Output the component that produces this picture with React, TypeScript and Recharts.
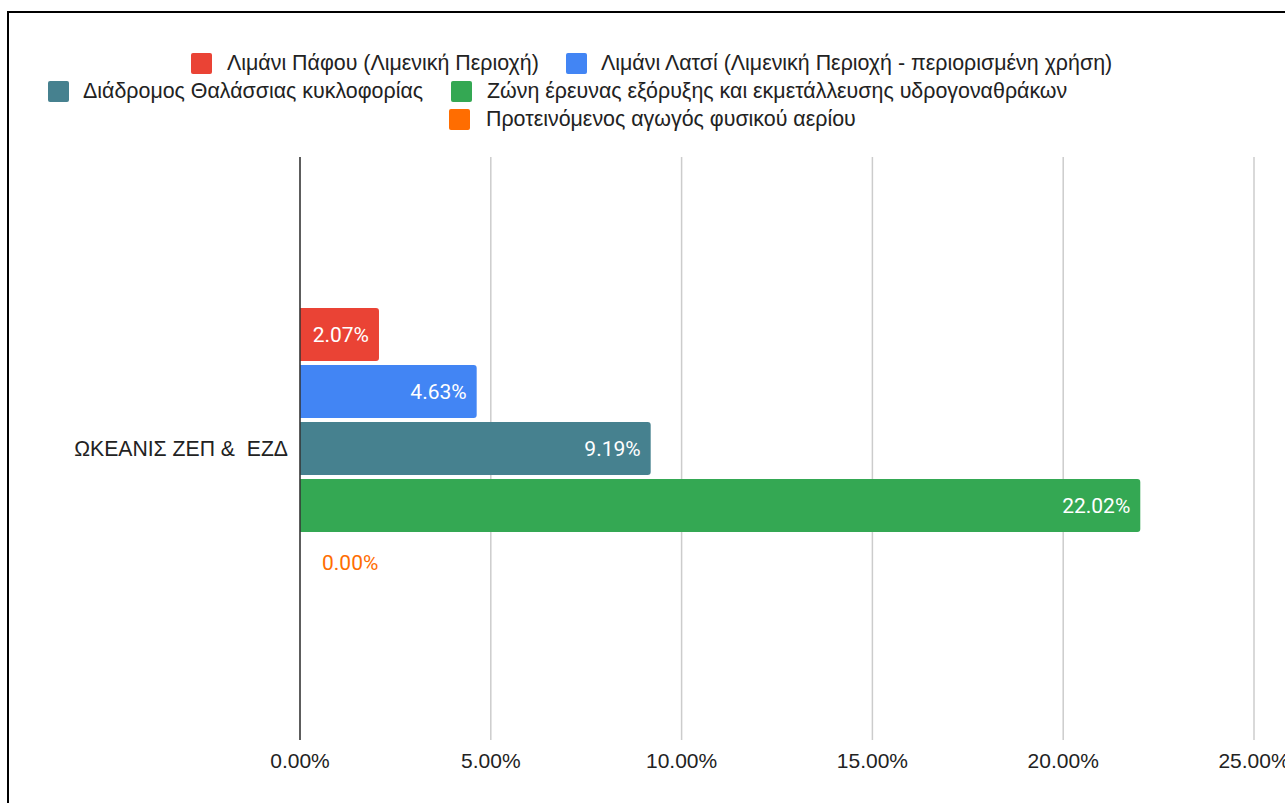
import React from 'react';
import { BarChart, Bar, XAxis, YAxis, CartesianGrid, Legend, LabelList } from 'recharts';

// ---- data ----
const categories: string[] = ['ΩΚΕΑΝΙΣ ΖΕΠ &  ΕΖΔ'];
const seriesNames: string[] = [
  'Λιμάνι Πάφου (Λιμενική Περιοχή)',
  'Λιμάνι Λατσί (Λιμενική Περιοχή - περιορισμένη χρήση)',
  'Διάδρομος Θαλάσσιας κυκλοφορίας',
  'Ζώνη έρευνας εξόρυξης και εκμετάλλευσης υδρογοναθράκων',
  'Προτεινόμενος αγωγός φυσικού αερίου',
];
const pafosValues: number[] = [2.07];
const latsiValues: number[] = [4.63];
const corridorValues: number[] = [9.19];
const hydrocarbonValues: number[] = [22.02];
const pipelineValues: number[] = [0.0];
const xTicks: number[] = [0, 5, 10, 15, 20, 25];

// ---- styles ----
const seriesColors = ['#EA4335', '#4285F4', '#46818F', '#34A853', '#FF6D01'];
const legendLayout = [
  { sx: 191, tx: 227, y: 53 },
  { sx: 566, tx: 601, y: 53 },
  { sx: 48, tx: 83, y: 81 },
  { sx: 451, tx: 487, y: 81 },
  { sx: 449, tx: 486, y: 109 },
];
const axisFont = '"Liberation Sans", Arial, sans-serif';
const labelFont = 'Roboto, "Liberation Sans", Arial, sans-serif';

const seriesKeys = ['s0', 's1', 's2', 's3', 's4'];
const seriesArrays = [pafosValues, latsiValues, corridorValues, hydrocarbonValues, pipelineValues];

const data = categories.map((c, i) => {
  const row: Record<string, string | number> = { category: c };
  seriesKeys.forEach((k, j) => {
    row[k] = seriesArrays[j][i];
  });
  return row;
});

const pct = (v: any) => `${Number(v).toFixed(2)}%`;

const LegendContent = () => (
  <div style={{ position: 'relative', width: 1285, height: 157 }}>
    {seriesNames.map((name, i) => (
      <React.Fragment key={name}>
        <div
          style={{
            position: 'absolute',
            left: legendLayout[i].sx,
            top: legendLayout[i].y,
            width: 21,
            height: 21,
            borderRadius: 2,
            background: seriesColors[i],
          }}
        />
        <div
          style={{
            position: 'absolute',
            left: legendLayout[i].tx,
            top: legendLayout[i].y,
            height: 21,
            lineHeight: '21px',
            fontSize: 21.4,
            fontFamily: axisFont,
            color: '#222',
            whiteSpace: 'nowrap',
          }}
        >
          {name}
        </div>
      </React.Fragment>
    ))}
  </div>
);

export default function App() {
  return (
    <div style={{ position: 'relative', width: 1285, height: 803, overflow: 'hidden', background: '#fff' }}>
      <style>{'body{margin:0;overflow:hidden;}'}</style>
      <div
        style={{
          position: 'absolute',
          left: 7,
          top: 11,
          width: 1300,
          height: 800,
          borderLeft: '2px solid #000',
          borderTop: '2px solid #000',
        }}
      />
      <div style={{ position: 'absolute', left: 0, top: 0 }}>
        <BarChart
          width={1285}
          height={803}
          data={data}
          layout="vertical"
          margin={{ top: 0, right: 31, bottom: 0, left: 0 }}
          barGap={4}
          barSize={53}
        >
          <CartesianGrid horizontal={false} stroke="#cccccc" strokeWidth={1.5} />
          <XAxis
            type="number"
            domain={[0, 25]}
            ticks={xTicks}
            interval={0}
            tickFormatter={pct}
            axisLine={false}
            tickLine={false}
            tickSize={0}
            tickMargin={13}
            height={63}
            tick={{ fontSize: 21, fontFamily: axisFont, fill: '#222' }}
          />
          <YAxis
            type="category"
            dataKey="category"
            width={300}
            tickFormatter={(v: string) => v.replace('  ', '\u00A0 ')}
            axisLine={{ stroke: '#333', strokeWidth: 1.5 }}
            tickLine={false}
            tickSize={0}
            tickMargin={12}
            tick={{ fontSize: 21.2, fontFamily: axisFont, fill: '#222' }}
          />
          <Legend
            verticalAlign="top"
            align="left"
            content={<LegendContent />}
            wrapperStyle={{ top: 0, left: 0, width: 1285, height: 157 }}
          />
          {seriesKeys.map((k, i) => (
            <Bar
              key={k}
              dataKey={k}
              name={seriesNames[i]}
              fill={seriesColors[i]}
              fillOpacity={i < 4 ? 1 : 0}
              minPointSize={i < 4 ? 0 : 1}
              radius={[0, 3, 3, 0]}
              isAnimationActive={false}
            >
              {i < 4 ? (
                <LabelList
                  dataKey={k}
                  position="insideRight"
                  offset={10}
                  formatter={pct}
                  fill="#ffffff"
                  style={{ fontSize: 21, fontFamily: labelFont }}
                />
              ) : (
                <LabelList
                  dataKey={k}
                  position="right"
                  offset={21}
                  formatter={pct}
                  fill={seriesColors[i]}
                  style={{ fontSize: 21, fontFamily: labelFont }}
                />
              )}
            </Bar>
          ))}
        </BarChart>
      </div>
    </div>
  );
}
